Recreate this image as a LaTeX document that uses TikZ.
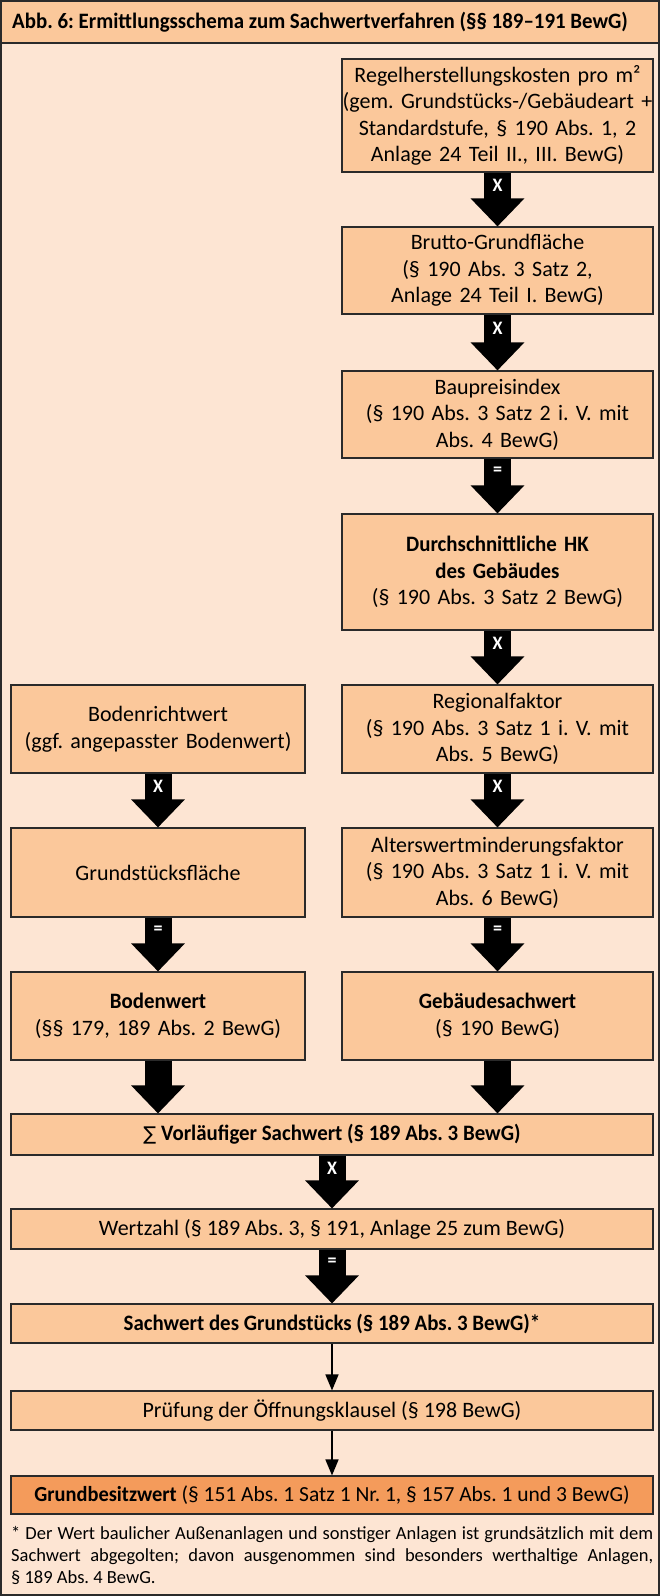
\documentclass[tikz,border=0pt]{standalone}
\usepackage{fontspec}
\setmainfont{Carlito}[BoldFeatures={FakeStretch=0.95}]
\newfontfamily\symfont{DejaVu Sans}
\usetikzlibrary{arrows.meta}
\frenchspacing

\definecolor{pagebg}{HTML}{FDE5D3}
\definecolor{boxfill}{HTML}{FBC89B}
\definecolor{endfill}{HTML}{F49B5B}
\definecolor{rulec}{HTML}{2A2A2A}

\begin{document}
\begin{tikzpicture}[x=1pt,y=-1pt,
    box/.style={draw=rulec,line width=1.1pt,fill=boxfill,align=center,inner sep=0pt,
      font=\fontsize{22}{26.5}\selectfont},
    rbox/.style={box,text width=311,minimum width=311},
    lbox/.style={box,text width=294,minimum width=294},
    wbox/.style={box,minimum width=642},
    bigarrow/.style={line width=27pt,-{Triangle[width=52pt,length=28pt]}},
    thinarrow/.style={line width=1.5pt,-{Triangle[width=13pt,length=16pt]}},
    op/.style={text=white,inner sep=0pt,font=\bfseries\fontsize{19}{19}\selectfont}]
      \useasboundingbox (0,0) rectangle (660,1596);
      \fill[pagebg] (0,0) rectangle (660,1596);
      \draw[rulec,line width=1.3pt,fill=boxfill] (1,1) rectangle (659,43);
      \draw[rulec,line width=1.3pt] (1,1) rectangle (659,1595);
      \node[anchor=west,inner sep=0pt,font=\bfseries\fontsize{22}{26}\selectfont] (title) at (12,22)
        {Abb. 6: Ermittlungsschema zum Sachwertverfahren (§§ 189–191 BewG)};

      \node[rbox,minimum height=113] (rhk) at (497.5,115.5)
        {Regelherstellungskosten pro m²\\(gem. Grundstücks-/Gebäudeart +\\Standardstufe, § 190 Abs. 1, 2\\Anlage 24 Teil II., III. BewG)};
      \node[rbox,minimum height=87] (bgf) at (497.5,270.5)
        {Brutto-Grundfläche\\(§ 190 Abs. 3 Satz 2,\\Anlage 24 Teil I. BewG)};
      \node[rbox,minimum height=87] (bpi) at (497.5,414.5)
        {Baupreisindex\\(§ 190 Abs. 3 Satz 2 i. V. mit\\Abs. 4 BewG)};
      \node[rbox,minimum height=116] (dhk) at (497.5,572)
        {\textbf{Durchschnittliche HK}\\\textbf{des Gebäudes}\\(§ 190 Abs. 3 Satz 2 BewG)};
      \node[rbox,minimum height=88] (rf) at (497.5,729)
        {Regionalfaktor\\(§ 190 Abs. 3 Satz 1 i. V. mit\\Abs. 5 BewG)};
      \node[lbox,minimum height=88] (brw) at (158,729)
        {Bodenrichtwert\\(ggf. angepasster Bodenwert)};
      \node[rbox,minimum height=89] (awm) at (497.5,872.5)
        {Alterswertminderungsfaktor\\(§ 190 Abs. 3 Satz 1 i. V. mit\\Abs. 6 BewG)};
      \node[lbox,minimum height=89] (gsf) at (158,872.5) {Grundstücksfläche};
      \node[rbox,minimum height=88] (gsw) at (497.5,1016) {\textbf{Gebäudesachwert}\\(§ 190 BewG)};
      \node[lbox,minimum height=88] (bw) at (158,1016) {\textbf{Bodenwert}\\(§§ 179, 189 Abs. 2 BewG)};
      \node[wbox,minimum height=41] (vsw) at (332,1134.5)
        {{\symfont\fontsize{19}{19}\selectfont ∑} \textbf{Vorläufiger Sachwert (§ 189 Abs. 3 BewG)}};
      \node[wbox,minimum height=40] (wz) at (332,1229) {Wertzahl (§ 189 Abs. 3, § 191, Anlage 25 zum BewG)};
      \node[wbox,minimum height=39] (swg) at (332,1323.5) {\textbf{Sachwert des Grundstücks (§ 189 Abs. 3 BewG)*}};
      \node[wbox,minimum height=39] (poe) at (332,1410.5) {Prüfung der Öffnungsklausel (§ 198 BewG)};
      \node[wbox,minimum height=38,fill=endfill,font=\fontsize{21.5}{26}\selectfont] (gbw) at (332,1495)
        {\textbf{Grundbesitzwert} (§ 151 Abs. 1 Satz 1 Nr. 1, § 157 Abs. 1 und 3 BewG)};

      \draw[bigarrow] (rhk) -- node[op,pos=0.24] {X} (bgf);
      \draw[bigarrow] (bgf) -- node[op,pos=0.24] {X} (bpi);
      \draw[bigarrow] (bpi) -- node[op,pos=0.24] {=} (dhk);
      \draw[bigarrow] (dhk) -- node[op,pos=0.24] {X} (rf);
      \draw[bigarrow] (rf) -- node[op,pos=0.24] {X} (awm);
      \draw[bigarrow] (brw) -- node[op,pos=0.24] {X} (gsf);
      \draw[bigarrow] (awm) -- node[op,pos=0.24] {=} (gsw);
      \draw[bigarrow] (gsf) -- node[op,pos=0.24] {=} (bw);
      \draw[bigarrow] (bw.south) -- (bw.south |- vsw.north);
      \draw[bigarrow] (gsw.south) -- (gsw.south |- vsw.north);
      \draw[bigarrow] (vsw) -- node[op,pos=0.24] {X} (wz);
      \draw[bigarrow] (wz) -- node[op,pos=0.24] {=} (swg);
      \draw[thinarrow] (swg) -- (poe);
      \draw[thinarrow] (poe) -- (gbw);

      \node[anchor=north west,inner sep=0pt,text width=642,align=justify,
        font=\fontsize{18.5}{22}\selectfont] (note) at (11,1526)
        {* Der Wert baulicher Außenanlagen und sonstiger Anlagen ist grundsätzlich mit dem\linebreak
         Sachwert abgegolten; davon ausgenommen sind besonders werthaltige Anlagen,\linebreak
         § 189 Abs. 4 BewG.};
    \end{tikzpicture}
\end{document}
